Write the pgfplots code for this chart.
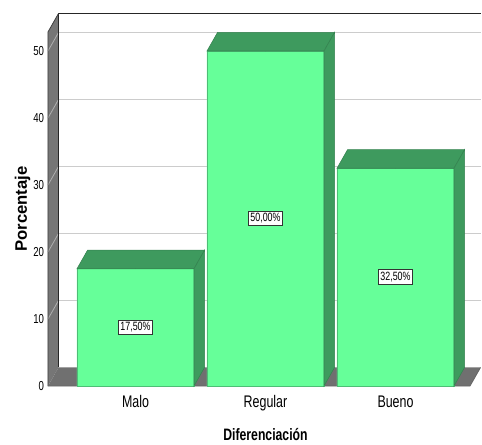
\documentclass[border=0pt]{standalone}
\usepackage{fontspec}
\setmainfont{Liberation Sans}[FakeStretch=0.74]
\newfontfamily\widesans{Liberation Sans}
\usepackage{pgfplots}
\usepackage{pgfplotstable}
\pgfplotsset{compat=1.18}

\definecolor{barfront}{RGB}{102,255,153}
\definecolor{barface}{RGB}{62,154,94}
\definecolor{barline}{RGB}{78,190,118}
\definecolor{wallgray}{RGB}{118,118,118}
\definecolor{floorgray}{RGB}{112,112,112}
\definecolor{gridback}{RGB}{204,204,204}
\definecolor{gridside}{RGB}{175,175,175}

\pgfplotstableread{
x v
0 17.5
1 50
2 32.5
}\porcentajes

% depth of the box and bar geometry, in pt
\def\dx{7.9}
\def\dy{13.9}
\def\hw{43.875}
\def\yu{5.025}

\tikzset{back/.style={shift={(\dx pt,\dy pt)}}}

\begin{document}
\begin{tikzpicture}[x=0.75pt,y=0.75pt]
\begin{axis}[
  at={(0,0)}, anchor=south west,
  x=97.5pt, y=5.025pt,
  xmin=-0.673, xmax=2.573, ymin=0, ymax=52.84,
  clip=false,
  axis line style={draw=none},
  major tick length=0pt,
  tick style={draw=none},
  xtick={0,1,2}, xticklabels={Malo,Regular,Bueno},
  ytick={0,10,...,50},
  /pgf/number format/assume math mode=true,
  xticklabel style={font=\fontsize{12.6}{14}\selectfont, anchor=base, yshift=-15.75pt},
  yticklabel style={font=\fontsize{9.75}{11}\selectfont, anchor=east, xshift=0.5pt},
  xlabel={Diferenciación},
  ylabel={Porcentaje},
  xlabel style={font=\fontsize{12.4}{14}\selectfont\bfseries,
    at={(axis description cs:0.5154,-0.155)}, anchor=base},
  ylabel style={font=\widesans\fontsize{12.5}{14}\selectfont\bfseries,
    at={(axis description cs:-0.0498,0.5)}, anchor=base},
]

% left wall
\fill[wallgray] (axis cs:-0.673,0) -- (axis cs:-0.673,52.84)
  -- ([back]axis cs:-0.673,52.84) -- ([back]axis cs:-0.673,0) -- cycle;
% floor
\fill[floorgray] (axis cs:-0.673,0) -- (axis cs:2.573,0)
  -- ([back]axis cs:2.573,0) -- ([back]axis cs:-0.673,0) -- cycle;

% grid lines on the back wall and the left wall
\pgfplotsinvokeforeach{10,20,30,40,50}{
  \draw[gridback, line width=0.8pt] ([back]axis cs:-0.673,#1) -- ([back]axis cs:2.573,#1);
  \draw[gridside, line width=0.6pt] (axis cs:-0.673,#1) -- ([back]axis cs:-0.673,#1);
}

% box outlines
\draw[black!85, line width=0.9pt] ([back]axis cs:-0.673,0) -- ([back]axis cs:-0.673,52.84)
  -- ([back]axis cs:2.573,52.84);
\draw[black!75, line width=0.6pt] (axis cs:-0.673,0) -- (axis cs:-0.673,52.84)
  -- ([back]axis cs:-0.673,52.84);
\draw[black!60, line width=0.6pt] (axis cs:-0.673,0) -- (axis cs:2.573,0)
  -- ([back]axis cs:2.573,0);

% front faces of the bars
\addplot[ybar, bar width=0.9, fill=barfront, draw=barline, line width=0.4pt]
  table[x=x, y=v] {\porcentajes};

% top and side faces of the bars
\addplot[only marks, mark=*, mark size=0pt, mark options={draw=none, fill=none},
  scatter,
  visualization depends on={\thisrow{v} \as \val},
  scatter/@pre marker code/.code={%
    \pgfmathsetmacro\hb{\val*\yu}%
    \filldraw[fill=barface, draw=barface!85!black, line width=0.4pt]
      (-\hw pt,0pt) -- (\hw pt,0pt) -- (\hw pt+\dx pt,\dy pt)
      -- (-\hw pt+\dx pt,\dy pt) -- cycle;
    \filldraw[fill=barface, draw=barface!85!black, line width=0.4pt]
      (\hw pt,0pt) -- (\hw pt+\dx pt,\dy pt) -- (\hw pt+\dx pt,\dy pt-\hb pt)
      -- (\hw pt,-\hb pt) -- cycle;
  },
  scatter/@post marker code/.code={}]
  table[x=x, y=v] {\porcentajes};

% value labels at half height
\addplot[draw=none, mark=none, point meta=explicit,
  nodes near coords={\pgfmathprintnumber[fixed, fixed zerofill, precision=2, use comma]{\pgfplotspointmeta}\%},
  every node near coord/.append style={anchor=center, fill=white, draw=black!80,
    line width=0.6pt, inner xsep=1.2pt, inner ysep=1.8pt,
    font=\fontsize{9}{10}\selectfont}]
  table[x=x, y expr=\thisrow{v}/2, meta=v] {\porcentajes};

\end{axis}
\pgfresetboundingbox
\path (-48,-58) rectangle (434,386);
\end{tikzpicture}
\end{document}
